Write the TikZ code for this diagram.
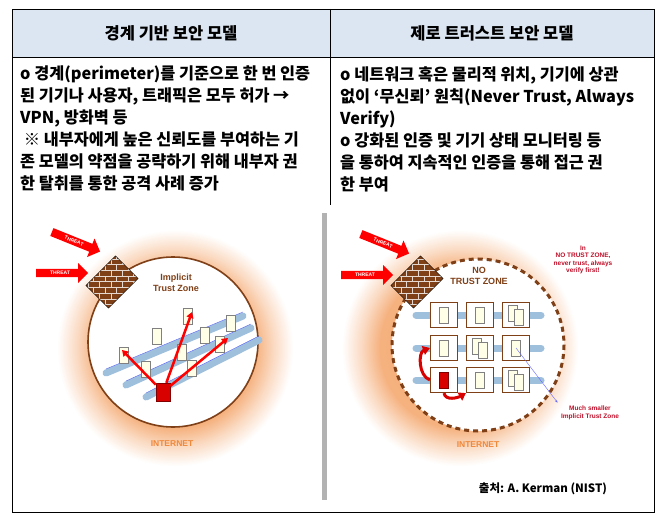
\documentclass[tikz,border=0pt]{standalone}
\usepackage{fontspec}
\setmainfont{Liberation Sans}
\newfontfamily\kr{Noto Sans CJK KR}
\usetikzlibrary{shapes.arrows,arrows.meta,patterns}
\definecolor{hdr}{HTML}{DCE6F2}
\definecolor{brn}{HTML}{7F3F17}
\definecolor{org}{HTML}{F0883A}
\definecolor{dred}{HTML}{C0102A}
\definecolor{pipe}{HTML}{9FC0DD}
\pgfdeclareradialshading{glow}{\pgfpoint{0bp}{0bp}}{color(0bp)=(org!75);color(17bp)=(org!65);color(21bp)=(org!30);color(25bp)=(white);color(50bp)=(white)}
\tikzset{
 txt/.style={anchor=north west,font=\kr\bfseries\fontsize{16.3}{22}\selectfont,align=left,inner sep=0},
 threat/.style={single arrow,fill=red,text=white,font=\bfseries\fontsize{5}{6}\selectfont,minimum height=52pt,minimum width=20pt,single arrow head extend=4pt,inner sep=1pt},
 wall/.style={preaction={fill=brn},pattern=bricks,pattern color=white!80!brn,draw=black,minimum width=42pt,minimum height=32pt},
 srv/.style={fill=yellow!10!white,draw=gray,minimum width=9pt,minimum height=16pt,inner sep=0},
 pipeS/.style={line width=7pt,color=pipe,line cap=round},
 cell/.style={draw=brn,line width=1.2pt,fill=white,minimum width=27pt,minimum height=25pt},
 lbl/.style={font=\bfseries\fontsize{9}{11}\selectfont,text=brn,align=center}
}
\begin{document}
\begin{tikzpicture}[x=1pt,y=-1pt]
\useasboundingbox (0,0) rectangle (660,518);
\fill[white] (0,0) rectangle (660,518);
% table
\fill[hdr] (12,9) rectangle (654,57);
\draw[line width=0.8pt] (12,9) rectangle (654,512);
\draw (12,57) -- (654,57);
\draw (330,9) -- (330,205);
\node[font=\kr\bfseries\fontsize{16.5}{20}\selectfont] (h1) at (171,33) {경계 기반 보안 모델};
\node[font=\kr\bfseries\fontsize{16.5}{20}\selectfont] (h2) at (492,33) {제로 트러스트 보안 모델};
\node[txt] (t1) at (20,66) {o 경계(perimeter)를 기준으로 한 번 인증\\된 기기나 사용자, 트래픽은 모두 허가 →\\VPN, 방화벽 등\\\ ※ 내부자에게 높은 신뢰도를 부여하는 기\\존 모델의 약점을 공략하기 위해 내부자 권\\한 탈취를 통한 공격 사례 증가};
\node[txt] (t2) at (340,66) {o 네트워크 혹은 물리적 위치, 기기에 상관\\없이 ‘무신뢰’ 원칙(Never Trust, Always\\Verify)\\o 강화된 인증 및 기기 상태 모니터링 등\\을 통하여 지속적인 인증을  통해 접근 권\\한 부여};
% separator bar
\fill[gray!60] (322,213) rectangle (327,500);
% ===== left illustration
\shade[shading=glow] (175,348) circle (118);
\draw[brn,line width=1.6pt,fill=white] (173,342) circle (85);
\node[lbl] (iz) at (176,283) {Implicit\\Trust Zone};
\node[font=\bfseries\fontsize{8.5}{10}\selectfont,text=org] (in1) at (172,444) {INTERNET};
\foreach \i in {0,1,2}{
 \draw[pipeS] (106+20*\i,373+12*\i) -- (243+8*\i,316+12*\i);
 \draw[pipe!50!blue,line width=0.4pt] (106+20*\i,369+12*\i) -- (243+8*\i,312+12*\i);}
\foreach \x/\y [count=\k] in {157/336,188/316,124/355,205/335,231/323,146/369,220/344,192/368,182/352}
 \node[srv] (ls\k) at (\x,\y) {};
\node[srv,fill=red!85!black,draw=red!50!black,minimum width=14pt,minimum height=18pt] (lr) at (163,392) {};
\draw[-{Triangle[width=7pt,length=6pt]},red,line width=2.5pt] (lr) -- (122,350);
\draw[-{Triangle[width=7pt,length=6pt]},red,line width=2.5pt] (lr) -- (192,312);
\draw[-{Triangle[width=7pt,length=6pt]},red,line width=2.5pt] (lr) -- (228,338);
\node[wall,rotate=45] (w1) at (112,282) {};
\node[threat,rotate=-22] (th1) at (74,241) {THREAT};
\node[threat] (th2) at (60,273) {THREAT};
% ===== right illustration
\shade[shading=glow] (460,348) circle (118);
\draw[brn,line width=3pt,dash pattern=on 5pt off 4pt,fill=white] (478,345) circle (86);
\node[lbl] (nt) at (479,276) {NO\\TRUST ZONE};
\node[font=\bfseries\fontsize{8.5}{10}\selectfont,text=org] (in2) at (478,445) {INTERNET};
\node[font=\bfseries\fontsize{6.5}{7.5}\selectfont,text=dred,align=center] (nv) at (583,260) {In\\NO TRUST ZONE,\\never trust, always\\verify first!};
\node[font=\bfseries\fontsize{6.5}{7.5}\selectfont,text=dred,align=center] (ms) at (590,413) {Much smaller\\Implicit Trust Zone};
\foreach \r/\y in {1/315,2/348,3/380}{
 \draw[pipeS] (416,\y) -- (541,\y);
 \foreach \c/\x in {1/444,2/480,3/516}
  \node[cell] (c\r\c) at (\x,\y) {};}
\foreach \r/\c in {1/1,1/2,2/1,2/3,3/2} \node[srv] at (c\r\c) {};
\foreach \r/\c in {1/3,2/2,3/3}{\node[srv] at ([xshift=-3pt,yshift=2pt]c\r\c.center) {};\node[srv] at ([xshift=3pt,yshift=-2pt]c\r\c.center) {};}
\node[srv,fill=red!85!black,draw=red!50!black] (rr) at (c31) {};
\draw[-{Triangle[width=9pt,length=7pt]},red!85!black,line width=3pt] (c31.west) to[out=160,in=200] (c21.west);
\draw[-{Triangle[width=9pt,length=7pt]},red!85!black,line width=3pt] (c31.south) to[out=-80,in=210] (c32.south west);
\draw[-{Stealth[length=3pt]},blue!60,line width=0.4pt] (c23.center) -- (ms.north west);
\node[wall,rotate=45] (w2) at (417,282) {};
\node[threat,rotate=-22] (th3) at (383,243) {THREAT};
\node[threat] (th4) at (365,275) {THREAT};
\node[font=\kr\bfseries\fontsize{11.5}{13}\selectfont] (src) at (543,489) {출처: A. Kerman (NIST)};
\end{tikzpicture}
\end{document}
